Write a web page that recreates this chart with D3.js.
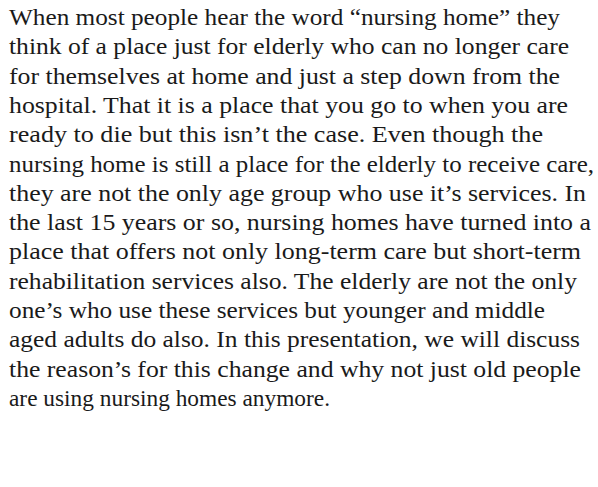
<!DOCTYPE html>
<html>
<head>
<meta charset="utf-8">
<script src="https://cdn.jsdelivr.net/npm/d3@7"></script>
<style>
  html, body { margin: 0; padding: 0; background: #fff; }
</style>
</head>
<body>
<div id="page"></div>
<script>
// Page size
var svgWidth = 598;
var svgHeight = 487;

// Paragraph, one entry per rendered line
var lines = [
  "When most people hear the word \u201cnursing home\u201d they",
  "think of a place just for elderly who can no longer care",
  "for themselves at home and just a step down from the",
  "hospital. That it is a place that you go to when you are",
  "ready to die but this isn\u2019t the case. Even though the",
  "nursing home is still a place for the elderly to receive care,",
  "they are not the only age group who use it\u2019s services. In",
  "the last 15 years or so, nursing homes have turned into a",
  "place that offers not only long-term care but short-term",
  "rehabilitation services also. The elderly are not the only",
  "one\u2019s who use these services but younger and middle",
  "aged adults do also. In this presentation, we will discuss",
  "the reason\u2019s for this change and why not just old people",
  "are using nursing homes anymore."
];

// Where each line ends (px)
var lineEnds = [560, 569, 560, 568, 543, 594, 586, 591, 581, 577, 545, 580, 581, 330];

var margin = { top: 25, left: 9 };
var lineStep = 29.3;

var svg = d3.select("#page")
  .append("svg")
  .attr("width", svgWidth)
  .attr("height", svgHeight);

// Baseline of every line
var yScale = d3.scaleLinear()
  .domain([0, lines.length - 1])
  .range([margin.top, margin.top + lineStep * (lines.length - 1)]);

var xScale = d3.scaleLinear().domain([0, svgWidth]).range([0, svgWidth]);

svg.selectAll("text.line")
  .data(lines)
  .enter()
  .append("text")
  .attr("class", "line")
  .attr("x", xScale(margin.left))
  .attr("y", (d, i) => yScale(i))
  .style("font-family", "'Liberation Serif'")
  .style("font-size", "24px")
  .style("fill", "#1a1a1a")
  .text(d => d)
  .each(function(d, i) {
    // fit the Times face to the Garamond line widths
    var target = xScale(lineEnds[i]) - xScale(margin.left);
    d3.select(this)
      .attr("textLength", target)
      .attr("lengthAdjust", "spacingAndGlyphs");
  });
</script>
</body>
</html>
